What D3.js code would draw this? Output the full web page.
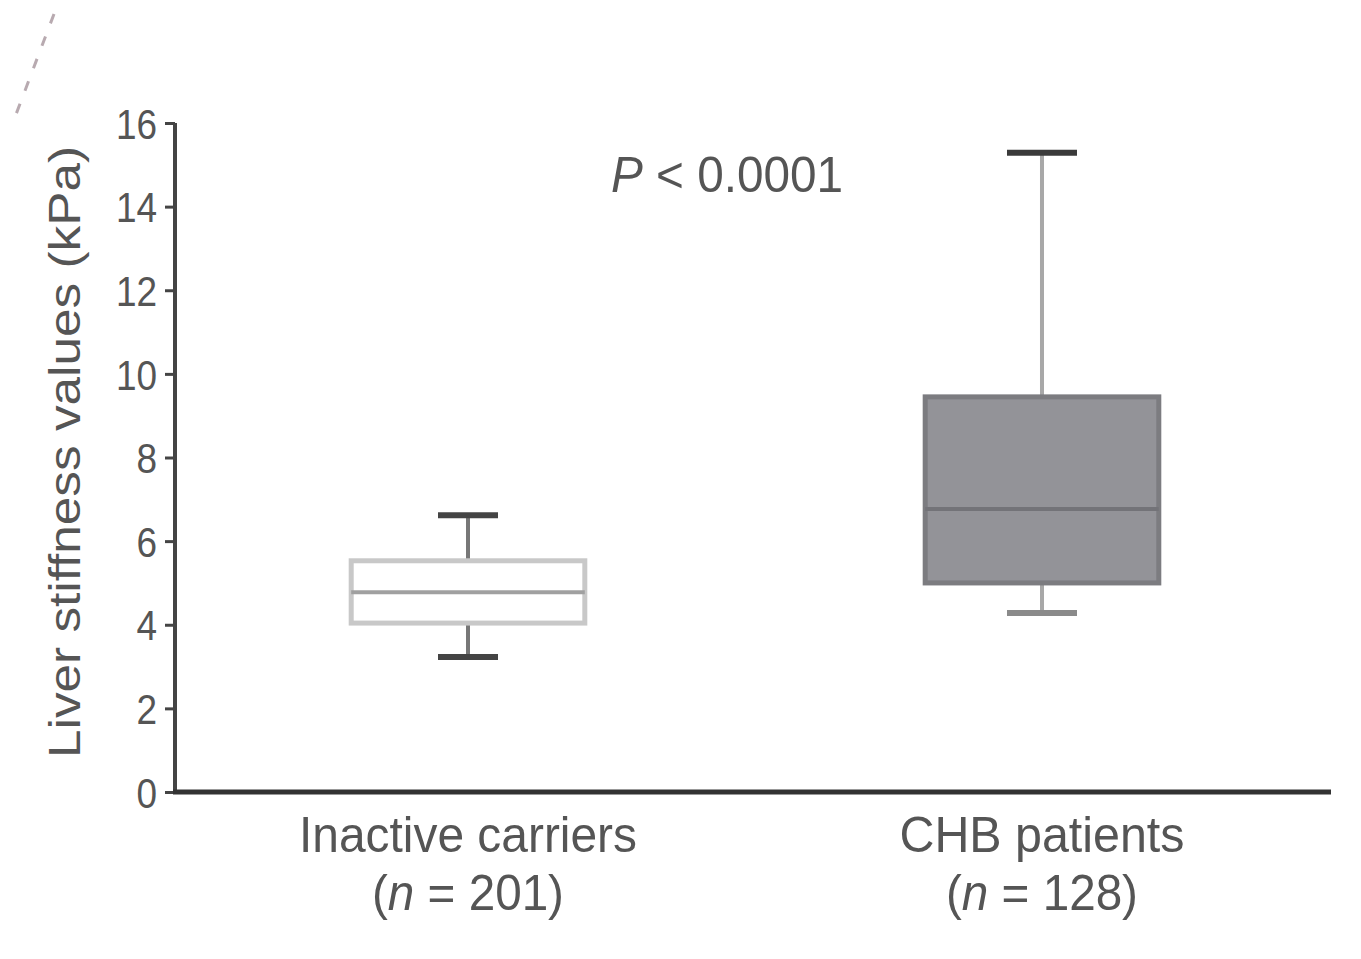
<!DOCTYPE html>
<html>
<head>
<meta charset="utf-8">
<script src="https://cdn.jsdelivr.net/npm/d3@7"></script>
<style>
  body { margin: 0; background: #fff; }
  text { font-family: "Liberation Sans", Arial, sans-serif; fill: #555; }
</style>
</head>
<body>
<svg width="1361" height="959"></svg>
<script>
// groups and their box summaries (kPa)
const groups = ["Inactive carriers", "CHB patients"]
const counts = [201, 128]
const whiskerLow = [3.23, 4.28]
const q1 = [4.04, 5.0]
const median = [4.78, 6.77]
const q3 = [5.53, 9.45]
const whiskerHigh = [6.62, 15.29]
const yTicks = [0, 2, 4, 6, 8, 10, 12, 14, 16]

const svg = d3.select("svg")
const margin = {left: 175, right: 30, top: 123, bottom: 167}
const width = +svg.attr("width"), height = +svg.attr("height")

const x = d3.scaleBand().domain(groups)
    .range([margin.left + 4, width - margin.right]).paddingInner(0.593).paddingOuter(0.3)
const y = d3.scaleLinear().domain([0, 16]).range([height - margin.bottom, margin.top])

const boxes = groups.map((g, i) => ({
  name: g, n: counts[i], lo: whiskerLow[i], q1: q1[i], med: median[i], q3: q3[i], hi: whiskerHigh[i], i
}))

// faint scan artifact top-left
svg.append("line")
    .attr("x1", 54).attr("y1", 14).attr("x2", 12).attr("y2", 125)
    .attr("stroke", "#b8aab0").attr("stroke-width", 3).attr("stroke-dasharray", "10,14")

// y axis
const yAxis = svg.append("g")
    .attr("transform", `translate(${margin.left},0)`)
    .call(d3.axisLeft(y).tickValues(yTicks).tickSize(10).tickPadding(6))
yAxis.select(".domain").attr("stroke", "#444").attr("stroke-width", 4).attr("d", `M0,${y(16)}V${y(0)}`)
yAxis.selectAll(".tick line").attr("stroke", "#444").attr("stroke-width", 3)
yAxis.selectAll(".tick text").attr("font-size", 42).attr("fill", "#555").attr("dy", "0.36em")
    .attr("transform", "scale(0.88,1)").attr("x", -18 / 0.88)

// x axis line
svg.append("line")
    .attr("x1", margin.left - 2).attr("x2", width - margin.right)
    .attr("y1", y(0)).attr("y2", y(0))
    .attr("stroke", "#333").attr("stroke-width", 5)

const boxStyle = [
  {fill: "#fff", stroke: "#c8c8c8", med: "#a0a0a0", whisker: "#777", cap: "#444", capLo: "#444", capW: 60},
  {fill: "#939398", stroke: "#7c7c80", med: "#737378", whisker: "#a8a8a8", cap: "#3a3a3a", capLo: "#8a8a8a", capW: 70}
]
const labelLen = [338, 285]
const nLen = [192, 192]

const g = svg.append("g").selectAll("g").data(boxes).enter().append("g")

g.each(function(d) {
  const s = boxStyle[d.i]
  const sel = d3.select(this)
  const cx = x(d.name) + x.bandwidth() / 2
  // whiskers
  sel.append("line").attr("x1", cx).attr("x2", cx).attr("y1", y(d.hi)).attr("y2", y(d.q3))
      .attr("stroke", s.whisker).attr("stroke-width", 4)
  sel.append("line").attr("x1", cx).attr("x2", cx).attr("y1", y(d.q1)).attr("y2", y(d.lo))
      .attr("stroke", s.whisker).attr("stroke-width", 4)
  sel.append("line").attr("x1", cx - s.capW / 2).attr("x2", cx + s.capW / 2)
      .attr("y1", y(d.hi)).attr("y2", y(d.hi)).attr("stroke", s.cap).attr("stroke-width", 6)
  sel.append("line").attr("x1", cx - s.capW / 2).attr("x2", cx + s.capW / 2)
      .attr("y1", y(d.lo)).attr("y2", y(d.lo)).attr("stroke", s.capLo).attr("stroke-width", 6)
  // box
  sel.append("rect")
      .attr("x", x(d.name)).attr("width", x.bandwidth())
      .attr("y", y(d.q3)).attr("height", y(d.q1) - y(d.q3))
      .attr("fill", s.fill).attr("stroke", s.stroke).attr("stroke-width", 5)
  sel.append("line").attr("x1", x(d.name)).attr("x2", x(d.name) + x.bandwidth())
      .attr("y1", y(d.med)).attr("y2", y(d.med)).attr("stroke", s.med).attr("stroke-width", 4)
  // labels
  sel.append("text").attr("x", cx).attr("y", y(0) + 60).attr("text-anchor", "middle")
      .attr("font-size", 50).attr("textLength", labelLen[d.i]).attr("lengthAdjust", "spacingAndGlyphs")
      .text(d.name)
  const t = sel.append("text").attr("x", cx).attr("y", y(0) + 118).attr("text-anchor", "middle")
      .attr("font-size", 50).attr("textLength", nLen[d.i]).attr("lengthAdjust", "spacingAndGlyphs")
  t.append("tspan").text("(")
  t.append("tspan").attr("font-style", "italic").text("n")
  t.append("tspan").text(" = " + d.n + ")")
})

// p value
const p = svg.append("text").attr("x", 727).attr("y", 192).attr("text-anchor", "middle").attr("font-size", 50)
    .attr("textLength", 232).attr("lengthAdjust", "spacingAndGlyphs")
p.append("tspan").attr("font-style", "italic").text("P")
p.append("tspan").text(" < 0.0001")

// y axis title
svg.append("text")
    .attr("transform", `translate(80,452) rotate(-90)`)
    .attr("text-anchor", "middle").attr("font-size", 44)
    .attr("textLength", 612).attr("lengthAdjust", "spacingAndGlyphs")
    .text("Liver stiffness values (kPa)")
</script>
</body>
</html>
